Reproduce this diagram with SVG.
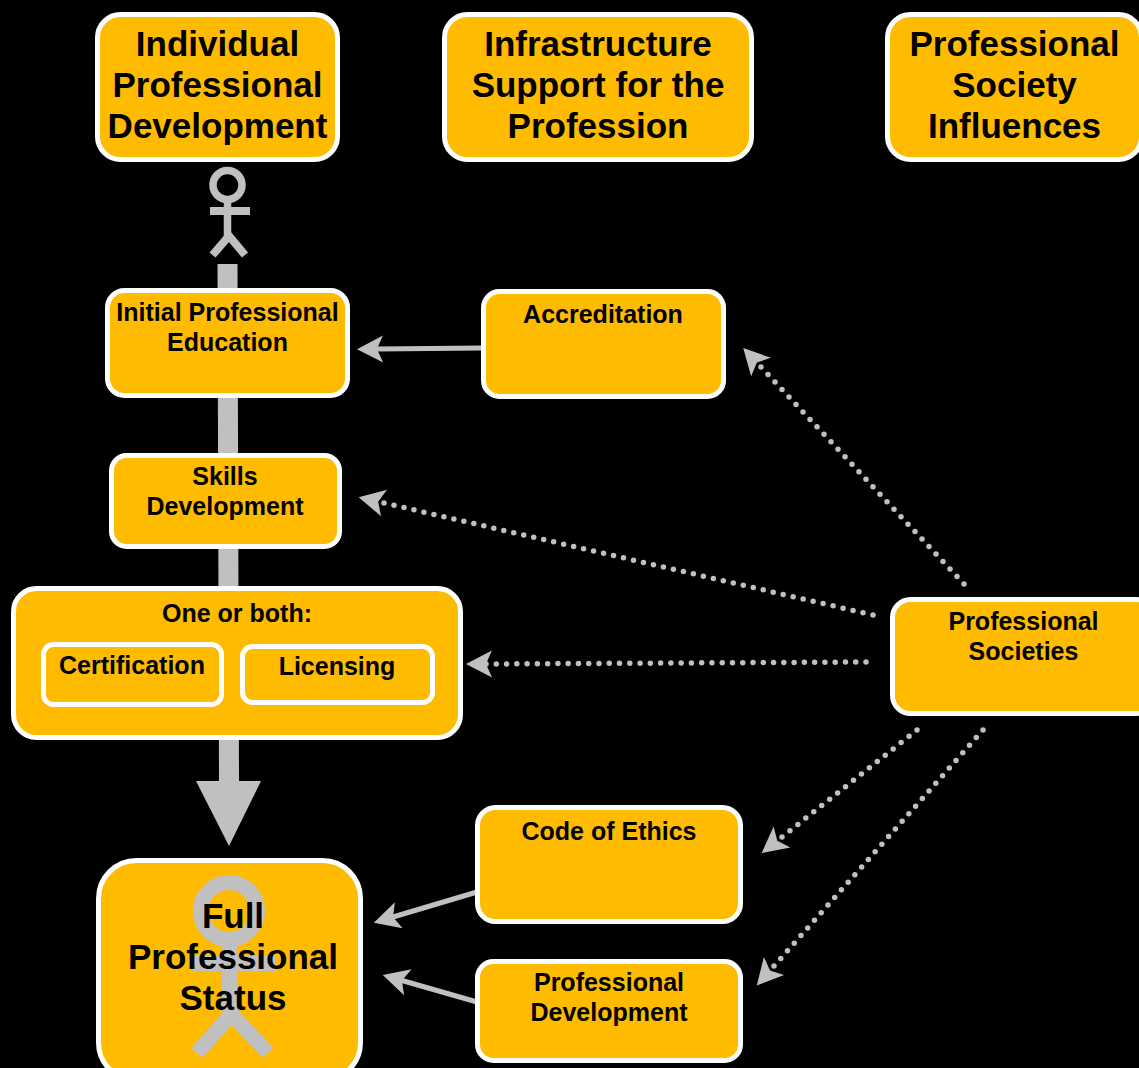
<svg xmlns="http://www.w3.org/2000/svg" width="1139" height="1068" viewBox="0 0 1139 1068">
<style>
.box{fill:#FFBB00;stroke:#fff;stroke-width:5}
text{font-family:"Liberation Sans",Arial,sans-serif;font-weight:bold;fill:#000;text-anchor:middle}
.lg{font-size:35px}
.sm{font-size:25px}
.solid{fill:none;stroke:#C0C0C0;stroke-width:5}
.dot{fill:none;stroke:#C0C0C0;stroke-width:5.5;stroke-linecap:round;stroke-dasharray:0 10}
.fig{fill:none;stroke:#C0C0C0}
</style>
<defs>
<marker id="head" markerUnits="userSpaceOnUse" markerWidth="60" markerHeight="60" refX="30" refY="30" orient="auto" viewBox="0 0 60 60">
<path d="M50,30 L24,16.500 L30,30 L24,43.500 Z" fill="#C0C0C0"/>
</marker>
<marker id="headb" markerUnits="userSpaceOnUse" markerWidth="60" markerHeight="60" refX="30" refY="30" orient="auto" viewBox="0 0 60 60">
<path d="M56,30 L30,16.500 L36,30 L30,43.500 Z" fill="#C0C0C0"/>
</marker>
</defs>
<rect width="1139" height="1068" fill="#000"/>
<g id="progression-arrow">
<polygon points="217.500,264 237.500,264 239,781 261,781 229,846 196,781 219,781" fill="#C0C0C0"/>
</g>
<g id="small-figure" class="fig">
<circle cx="227.500" cy="185" r="14.500" stroke-width="7.500"/>
<path d="M227.500,200V237" stroke-width="7.500"/>
<path d="M210,211H250" stroke-width="8"/>
<path d="M212.500,255L229,236L245,255" stroke-width="8"/>
</g>
<g id="connectors">
<path class="solid" d="M482,348L377,349" marker-end="url(#head)"/>
<path class="solid" d="M477,892L393,917" marker-end="url(#head)"/>
<path class="solid" d="M477,1002L402,980.500" marker-end="url(#head)"/>
<path class="dot" pathLength="290.010" d="M964,584L761,367" marker-end="url(#headb)"/>
<path class="dot" pathLength="490.010" d="M873,615L384,503" marker-end="url(#headb)"/>
<path class="dot" pathLength="370.010" d="M866,662L486,664" marker-end="url(#head)"/>
<path class="dot" pathLength="170.010" d="M917,730L782,837" marker-end="url(#headb)"/>
<path class="dot" pathLength="310.010" d="M983,730L774,966" marker-end="url(#headb)"/>
</g>
<g id="individual-header"><rect class="box" x="97.500" y="14.500" width="240" height="145" rx="23"/><text class="lg" x="217.500" y="56">Individual</text><text class="lg" x="217.500" y="97">Professional</text><text class="lg" x="217.500" y="138">Development</text></g>
<g id="infrastructure-header"><rect class="box" x="444.500" y="14.500" width="307" height="145" rx="23"/><text class="lg" x="598" y="56">Infrastructure</text><text class="lg" x="598" y="97">Support for the</text><text class="lg" x="598" y="138">Profession</text></g>
<g id="society-header"><rect class="box" x="887.500" y="14.500" width="254" height="145" rx="23"/><text class="lg" x="1014.500" y="56">Professional</text><text class="lg" x="1014.500" y="97">Society</text><text class="lg" x="1014.500" y="138">Influences</text></g>
<g id="initial-education"><rect class="box" x="107.500" y="290.500" width="240" height="105" rx="17"/><text class="sm" x="227.500" y="321">Initial Professional</text><text class="sm" x="227.500" y="351">Education</text></g>
<g id="accreditation"><rect class="box" x="483.500" y="291.500" width="240" height="105" rx="16"/><text class="sm" x="603" y="323">Accreditation</text></g>
<g id="skills-development"><rect class="box" x="111.500" y="455.500" width="228" height="91" rx="15"/><text class="sm" x="225" y="485">Skills</text><text class="sm" x="225" y="515">Development</text></g>
<g id="one-or-both"><rect class="box" x="13.500" y="588.500" width="447" height="149" rx="23"/><text class="sm" x="237" y="622">One or both:</text></g>
<g id="certification"><rect class="box" x="43.500" y="644.500" width="178" height="60" rx="10"/><text class="sm" x="132" y="674">Certification</text></g>
<g id="licensing"><rect class="box" x="242.500" y="646.500" width="190" height="56" rx="10"/><text class="sm" x="337" y="675">Licensing</text></g>
<g id="professional-societies"><rect class="box" x="892.500" y="599.500" width="262" height="114" rx="18"/><text class="sm" x="1023.500" y="630">Professional</text><text class="sm" x="1023.500" y="660">Societies</text></g>
<g id="code-of-ethics"><rect class="box" x="477.500" y="807.500" width="263" height="114" rx="18"/><text class="sm" x="609" y="840">Code of Ethics</text></g>
<g id="professional-development"><rect class="box" x="477.500" y="961.500" width="263" height="99" rx="16"/><text class="sm" x="609" y="991">Professional</text><text class="sm" x="609" y="1021">Development</text></g>
<g id="full-status"><rect class="box" x="98.500" y="860.500" width="262" height="220" rx="38"/>
<g class="fig"><circle cx="229" cy="911" r="28.500" stroke-width="15"/><path d="M229.500,945V1020" stroke-width="15"/><path d="M193,963H275" stroke-width="16"/><path d="M197,1053L231.500,1014L268,1053" stroke-width="15"/></g>
<text class="lg" x="233" y="928">Full</text><text class="lg" x="233" y="969">Professional</text><text class="lg" x="233" y="1010">Status</text></g>
</svg>
